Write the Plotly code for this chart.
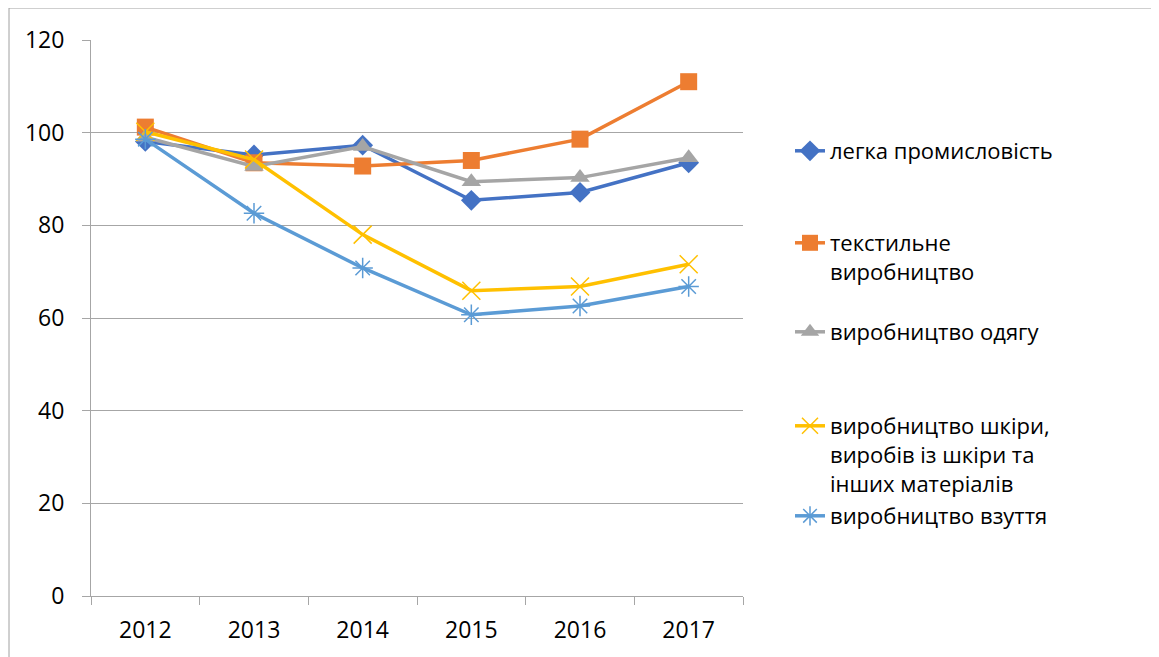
import plotly.graph_objects as go

years = ["2012", "2013", "2014", "2015", "2016", "2017"]
light_industry = [98.1, 95.2, 97.3, 85.4, 87.1, 93.5]
textile = [101.2, 93.5, 92.8, 94.0, 98.6, 111.0]
clothing = [99.0, 92.7, 97.0, 89.4, 90.3, 94.6]
leather = [100.2, 94.2, 78.0, 65.9, 66.8, 71.6]
footwear = [98.6, 82.6, 70.8, 60.7, 62.6, 66.8]

names = [
    "легка промисловість",
    "текстильне<br>виробництво",
    "виробництво одягу",
    "виробництво шкіри,<br>виробів із шкіри та<br>інших матеріалів",
    "виробництво взуття",
]
series = [light_industry, textile, clothing, leather, footwear]
colors = ["#4472C4", "#ED7D31", "#A5A5A5", "#FFC000", "#5B9BD5"]
markers = [
    dict(symbol="diamond", size=16),
    dict(symbol="square", size=17),
    dict(symbol="triangle-up", size=17),
    dict(symbol="x-thin-open", size=18, line=dict(width=1.5)),
    dict(symbol="asterisk-open", size=17, line=dict(width=1.5)),
]

# page has an 8px body margin; figure coords = screen coords - 8
OFF = 8
FW, FH = 1151, 649
L, R, T, B = 91 - OFF, 743 - OFF, 40 - OFF, 596 - OFF
W, H = R - L, B - T

def px_x(p):
    return (p - OFF - L) / W

def px_y(p):
    return (B - (p - OFF)) / H

legend_tops = [130, 222, 311, 405, 495]
legend_ids = ["legend", "legend2", "legend3", "legend4", "legend5"]

fig = go.Figure()
for i, (nm, vals, col, mk) in enumerate(zip(names, series, colors, markers)):
    m = dict(mk)
    m["color"] = col
    if "line" in m:
        m["line"] = dict(m["line"], color=col)
    fig.add_trace(go.Scatter(
        x=years, y=vals, name=nm, mode="lines+markers",
        line=dict(color=col, width=3.5),
        marker=m,
        legend=legend_ids[i],
    ))

legend_common = dict(
    xanchor="left", yanchor="top", x=px_x(790),
    bgcolor="rgba(0,0,0,0)", valign="top",
    font=dict(family="Open Sans", size=22, color="#000000"),
)
layout_legends = {}
for lid, top in zip(legend_ids, legend_tops):
    layout_legends[lid] = dict(legend_common, y=px_y(top))

fig.update_layout(
    width=FW, height=FH,
    margin=dict(l=L, r=FW - R, t=T, b=FH - B),
    paper_bgcolor="white", plot_bgcolor="white",
    font=dict(family="Open Sans", size=23, color="#000000"),
    showlegend=True,
    **layout_legends,
)

fig.update_yaxes(
    range=[0, 120], dtick=20, tick0=0,
    showgrid=True, gridcolor="#a6a6a6", gridwidth=1,
    showline=True, linecolor="#a6a6a6", linewidth=1,
    ticks="outside", ticklen=8, tickcolor="#a6a6a6",
    zeroline=False, ticklabelstandoff=13,
    tickfont=dict(family="Open Sans", size=23, color="#000000"),
)
fig.update_xaxes(
    type="category", tickson="boundaries", range=[-0.5, len(years) - 0.5],
    showgrid=False, showline=True, linecolor="#a6a6a6", linewidth=1,
    ticks="outside", ticklen=8, tickcolor="#a6a6a6",
    ticklabelstandoff=13,
    tickfont=dict(family="Open Sans", size=23, color="#000000"),
)

# outer chart frame
fig.add_shape(
    type="rect", xref="paper", yref="paper",
    x0=px_x(9), x1=px_x(1152), y0=px_y(670), y1=px_y(8),
    line=dict(color="#a0a0a0", width=1), fillcolor="rgba(0,0,0,0)",
    layer="below",
)

fig.write_html("out.html")
